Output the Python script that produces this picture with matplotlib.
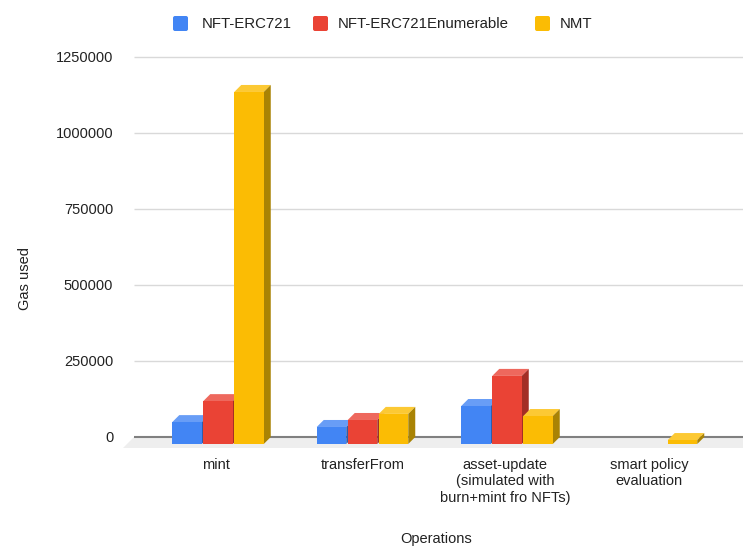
import matplotlib
matplotlib.use('Agg')
import matplotlib.pyplot as plt
from matplotlib.patches import FancyBboxPatch, Polygon
from matplotlib.transforms import IdentityTransform

categories = ['mint', 'transferFrom',
              'asset-update\n(simulated with\nburn+mint fro NFTs)',
              'smart policy\nevaluation']
erc721 = [72000, 56000, 125000, 0]
erc721_enum = [141000, 79000, 224000, 0]
nmt = [1158000, 99000, 92000, 13000]
series_names = ['NFT-ERC721', 'NFT-ERC721Enumerable', 'NMT']
y_ticks = [0, 250000, 500000, 750000, 1000000, 1250000]

front_colors = ['#4285f4', '#ea4335', '#fbbc04']
top_colors = ['#689df6', '#ee685d', '#fcc934']
side_colors = ['#2e5dab', '#a32e25', '#a98304']

plt.rcParams['font.family'] = ['Liberation Sans', 'DejaVu Sans']
plt.rcParams['font.size'] = 10.5

W, H = 743, 547
fig = plt.figure(figsize=(W / 100, H / 100), dpi=100)

# plot area in pixels
left, right, top, bottom = 118, 743, 57, 448
ax = fig.add_axes([left / W, 1 - bottom / H, (right - left) / W, (bottom - top) / H])

px_y = 1250000 / 380  # value per pixel
px_x = 1 / 144.5  # category per pixel
ax.set_ylim(-(448 - 437) * px_y, 1250000)
ax.set_xlim((left - 218) * px_x, (right - 218) * px_x)

depth_x = 7 * px_x
depth_y = 7 * px_y
bar_w = 29.5 * px_x
step = 31 * px_x
offsets = [-step, 0, step]

# back wall gridlines and floor
x0, x1 = ax.get_xlim()
wall_x = (134 - 218) * px_x
for t in y_ticks[1:]:
    ax.plot([wall_x, x1], [t, t], color='#d9d9d9', lw=1.0,
            solid_capstyle='butt', zorder=1, clip_on=False)
ax.add_patch(Polygon([[wall_x, 0], [x1, 0], [x1, -11 * px_y], [(123 - 218) * px_x, -11 * px_y]],
                     closed=True, fc='#eeeeee', ec='none', zorder=1))
ax.plot([wall_x, x1], [0, 0], color='#808080', lw=1.5, solid_capstyle='butt', zorder=2)

# bars: front face from the axes scale, then top and side faces
for s, values in enumerate([erc721, erc721_enum, nmt]):
    for i, v in enumerate(values):
        if v == 0:
            continue
        xl = i + offsets[s] - bar_w / 2
        xr = xl + bar_w
        yb = -depth_y
        yt = v - depth_y
        z = 3 + s * 0.1
        ax.bar(xl, v, width=bar_w, bottom=yb, align='edge', color=front_colors[s], lw=0, zorder=z + 0.02)
        ax.add_patch(Polygon([[xl, yt], [xr, yt], [xr + depth_x, v], [xl + depth_x, v]],
                             closed=True, fc=top_colors[s], ec='none', zorder=z))
        ax.add_patch(Polygon([[xr, yb], [xr + depth_x, 0], [xr + depth_x, v], [xr, yt]],
                             closed=True, fc=side_colors[s], ec='none', zorder=z))

for sp in ax.spines.values():
    sp.set_visible(False)
ax.patch.set_visible(False)

ax.set_yticks(y_ticks)
ax.set_yticklabels([str(t) for t in y_ticks], color='#222222')
ax.tick_params(axis='y', length=0, pad=3.5)
# labels sit slightly left of their bar groups
label_shift = [-2.5, 0.5, -2, -2.5]
ax.set_xticks([i + d * px_x for i, d in enumerate(label_shift)])
ax.set_xticklabels(categories, color='#222222', linespacing=1.22)
ax.tick_params(axis='x', length=0, pad=7)

fig.text(25 / W, 1 - 278 / H, 'Gas used', rotation=90, ha='center', va='center', color='#222222')
fig.text(436 / W, 1 - 539 / H, 'Operations', ha='center', va='center', color='#222222')

# legend row, unevenly spaced so it is placed by hand
square_x = [173, 313, 535]
label_x = [202, 338, 560]
for name, c, sx, lx in zip(series_names, front_colors, square_x, label_x):
    fig.add_artist(FancyBboxPatch((sx + 1.5, H - 31 + 1.5), 12, 12, boxstyle='round,pad=1.5,rounding_size=2',
                                  fc=c, ec='none', transform=IdentityTransform()))
    fig.text(lx / W, 1 - 24 / H, name, fontsize=10.8, ha='left', va='center', color='#222222')

fig.savefig('out.png', dpi=100)
